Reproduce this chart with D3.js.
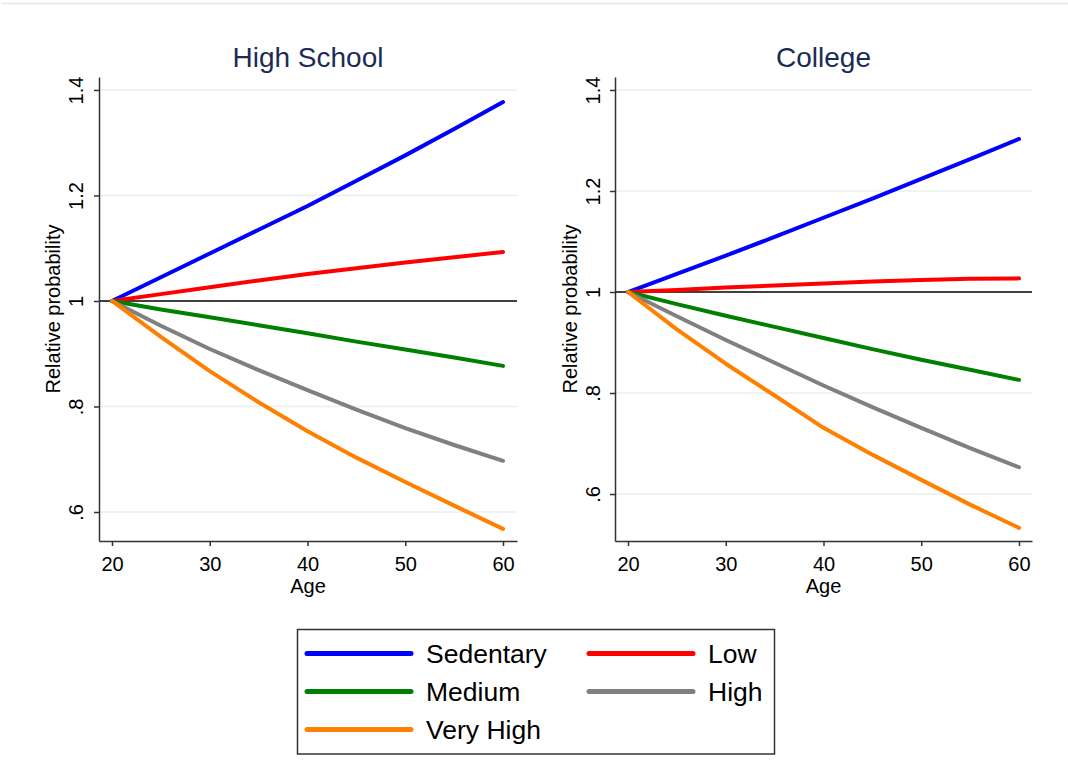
<!DOCTYPE html>
<html>
<head>
<meta charset="utf-8">
<script src="https://cdn.jsdelivr.net/npm/d3@7/dist/d3.min.js"></script>
<style>
  html, body { margin: 0; padding: 0; background: #fff; }
  svg { display: block; font-family: "Liberation Sans", Arial, Helvetica, sans-serif; }
</style>
</head>
<body>
<svg id="chart" width="1068" height="780"></svg>
<script>
// Ages at which the relative probabilities were predicted
const ages = [20, 25, 30, 35, 40, 45, 50, 55, 60];

// Activity levels (legend order) and their line colours
const levels = ["Sedentary", "Low", "Medium", "High", "Very High"];
const levelColors = ["#0000ff", "#ff0000", "#008000", "#808080", "#ff8000"];

// High School panel: relative probability by age
const hsSedentary = [1, 1.045, 1.090, 1.135, 1.180, 1.228, 1.276, 1.326, 1.377];
const hsLow       = [1, 1.013, 1.026, 1.039, 1.051, 1.062, 1.073, 1.083, 1.093];
const hsMedium    = [1, 0.984, 0.969, 0.954, 0.939, 0.923, 0.908, 0.893, 0.877];
const hsHigh      = [1, 0.953, 0.909, 0.869, 0.831, 0.794, 0.759, 0.727, 0.697];
const hsVeryHigh  = [1, 0.932, 0.867, 0.808, 0.753, 0.703, 0.657, 0.612, 0.568];

// College panel: relative probability by age
const colSedentary = [1, 1.036, 1.072, 1.109, 1.147, 1.185, 1.224, 1.263, 1.303];
const colLow       = [1, 1.004, 1.009, 1.013, 1.017, 1.021, 1.024, 1.026, 1.027];
const colMedium    = [1, 0.976, 0.953, 0.931, 0.909, 0.887, 0.866, 0.846, 0.826];
const colHigh      = [1, 0.952, 0.905, 0.860, 0.815, 0.772, 0.731, 0.691, 0.653];
const colVeryHigh  = [1, 0.926, 0.858, 0.795, 0.731, 0.678, 0.628, 0.579, 0.533];

// Axis ticks
const xTicks = [20, 30, 40, 50, 60];
const yTicks = [0.6, 0.8, 1, 1.2, 1.4];
const yTickLabels = [".6", ".8", "1", "1.2", "1.4"];

const panelTitles = ["High School", "College"];
const panelSeries = [
  [hsSedentary, hsLow, hsMedium, hsHigh, hsVeryHigh],
  [colSedentary, colLow, colMedium, colHigh, colVeryHigh]
];

// Plot-region geometry of each panel (pixels)
const panels = [
  { left: 99, right: 517, top: 77, bottom: 541, xDomain: [18.67, 61.43], yDomain: [0.545, 1.4246],
    tickLabelOffset: 23.5, yTitleX: 60 },
  { left: 615, right: 1032, top: 77, bottom: 541, xDomain: [18.67, 61.33], yDomain: [0.507, 1.4257],
    tickLabelOffset: 22, yTitleX: 577 }
];

const svg = d3.select("#chart");
const FONT = "\"Liberation Sans\", Arial, Helvetica, sans-serif";

// faint outer frame line along the top
svg.append("line")
  .attr("x1", 1).attr("x2", 1068).attr("y1", 3.5).attr("y2", 3.5)
  .attr("stroke", "#e3eaec").attr("stroke-width", 1.5);

panels.forEach((p, i) => {
  const x = d3.scaleLinear().domain(p.xDomain).range([p.left, p.right]);
  const y = d3.scaleLinear().domain(p.yDomain).range([p.bottom, p.top]);
  const g = svg.append("g");

  // horizontal gridlines
  g.append("g").selectAll("line")
    .data(yTicks.filter(v => v !== 1))
    .join("line")
    .attr("x1", p.left).attr("x2", p.right)
    .attr("y1", d => y(d)).attr("y2", d => y(d))
    .attr("stroke", "#e8eff1").attr("stroke-width", 1.5);

  // reference line at 1
  g.append("line")
    .attr("x1", p.left).attr("x2", p.right)
    .attr("y1", y(1)).attr("y2", y(1))
    .attr("stroke", "#000").attr("stroke-width", 1.5);

  // series lines
  const line = d3.line().x((d, k) => x(ages[k])).y(d => y(d));
  panelSeries[i].forEach((vals, s) => {
    g.append("path")
      .datum(vals)
      .attr("d", line)
      .attr("fill", "none")
      .attr("stroke", levelColors[s])
      .attr("stroke-width", 4)
      .attr("stroke-linecap", "round")
      .attr("stroke-linejoin", "round");
  });

  // y axis
  const yAxis = d3.axisLeft(y)
    .tickValues(yTicks)
    .tickFormat((d, k) => yTickLabels[k])
    .tickSize(5).tickSizeOuter(0);
  const ya = g.append("g").attr("transform", `translate(${p.left},0)`).call(yAxis);
  ya.select(".domain").attr("stroke", "#333").attr("stroke-width", 1.5);
  ya.selectAll(".tick line").attr("stroke", "#333").attr("stroke-width", 1.5);
  ya.selectAll(".tick text")
    .attr("transform", "rotate(-90)")
    .attr("x", 0).attr("y", -p.tickLabelOffset).attr("dy", null)
    .attr("text-anchor", "middle")
    .attr("dominant-baseline", "central")
    .attr("font-size", 20).attr("font-family", FONT).attr("fill", "#000");

  // x axis
  const xAxis = d3.axisBottom(x).tickValues(xTicks).tickSize(5).tickSizeOuter(0);
  const xa = g.append("g").attr("transform", `translate(0,${p.bottom})`).call(xAxis);
  xa.select(".domain").attr("stroke", "#333").attr("stroke-width", 1.5);
  xa.selectAll(".tick line").attr("stroke", "#333").attr("stroke-width", 1.5);
  xa.selectAll(".tick text")
    .attr("y", 30).attr("dy", null)
    .attr("font-size", 20).attr("font-family", FONT).attr("fill", "#000");

  // axis titles
  g.append("text")
    .attr("x", (p.left + p.right) / 2).attr("y", 593)
    .attr("text-anchor", "middle").attr("font-size", 20).attr("fill", "#000")
    .text("Age");
  g.append("text")
    .attr("transform", `translate(${p.yTitleX},${(p.top + p.bottom) / 2}) rotate(-90)`)
    .attr("text-anchor", "middle").attr("font-size", 20).attr("fill", "#000")
    .text("Relative probability");

  // panel title
  g.append("text")
    .attr("x", (p.left + p.right) / 2).attr("y", 67)
    .attr("text-anchor", "middle").attr("font-size", 28).attr("fill", "#1c2b55")
    .text(panelTitles[i]);
});

// legend
const legend = svg.append("g");
legend.append("rect")
  .attr("x", 297.5).attr("y", 629.5).attr("width", 477).attr("height", 124.5)
  .attr("fill", "#fff").attr("stroke", "#333").attr("stroke-width", 1.5);

const legendCols = [{ x1: 307, x2: 411, tx: 426 }, { x1: 589, x2: 693, tx: 708 }];
const legendRows = [653.5, 691.5, 729.5];
levels.forEach((name, k) => {
  const c = legendCols[k % 2], r = legendRows[Math.floor(k / 2)];
  legend.append("line")
    .attr("x1", c.x1).attr("x2", c.x2).attr("y1", r).attr("y2", r)
    .attr("stroke", levelColors[k]).attr("stroke-width", 5)
    .attr("stroke-linecap", "round");
  legend.append("text")
    .attr("x", c.tx).attr("y", r + 9.5)
    .attr("font-size", 26.5).attr("fill", "#000")
    .text(name);
});
</script>
</body>
</html>
